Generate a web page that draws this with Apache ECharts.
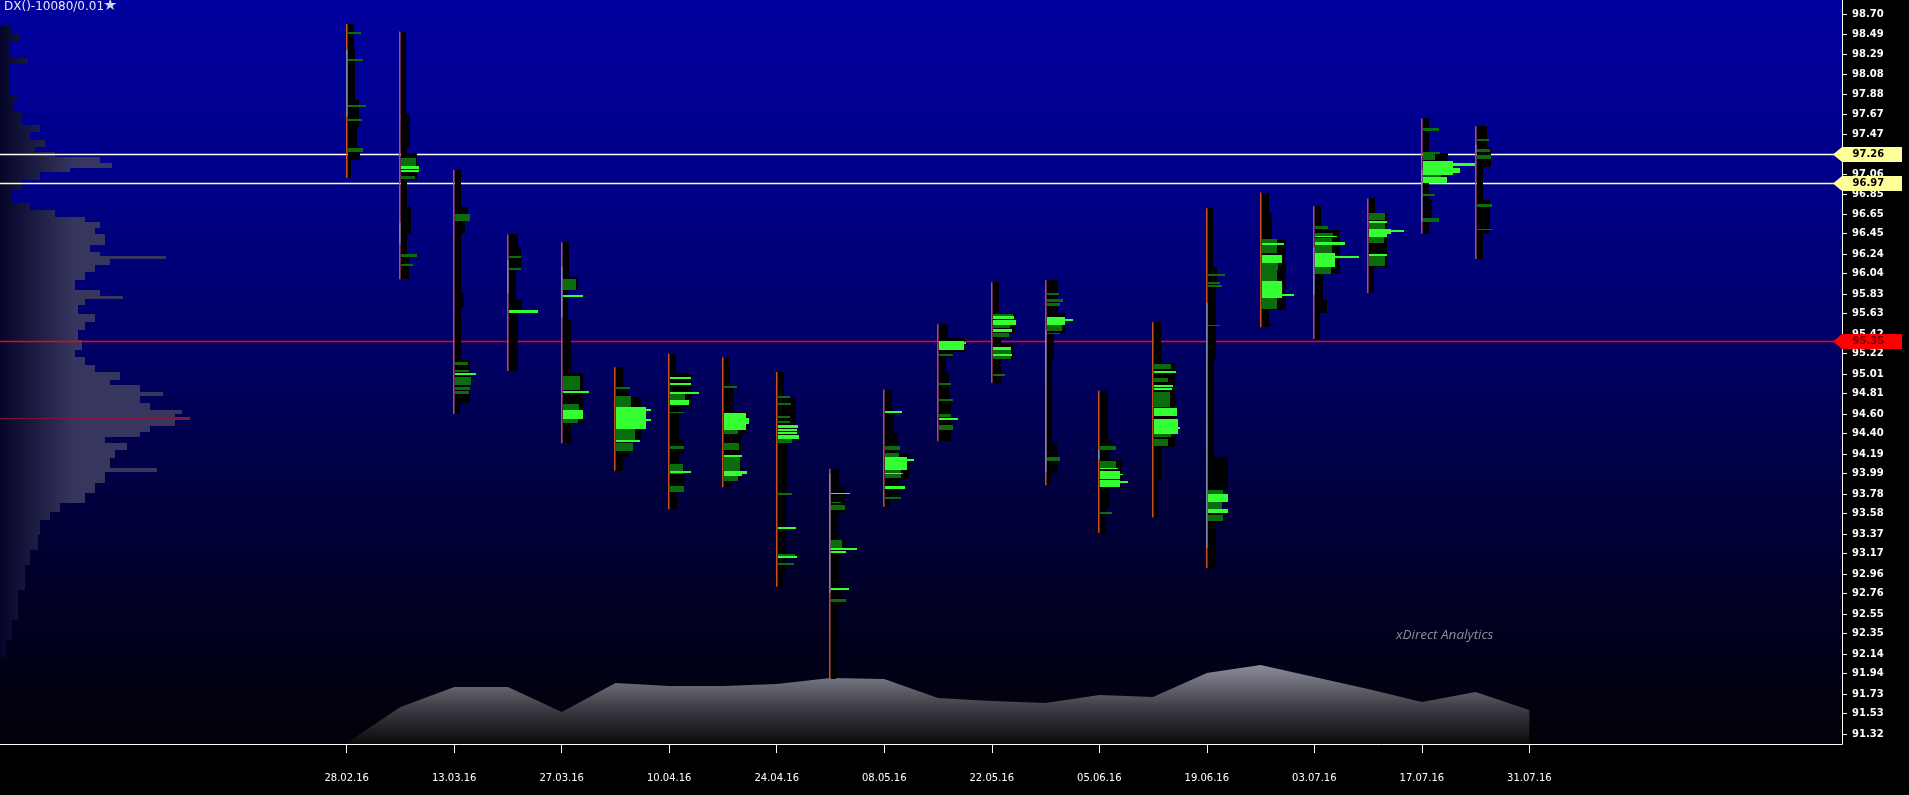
<!DOCTYPE html>
<html><head><meta charset="utf-8">
<script src="https://cdn.jsdelivr.net/npm/echarts@6/dist/echarts.min.js"></script>
<style>html,body{margin:0;padding:0;background:#000;overflow:hidden}#c{width:1909px;height:795px}</style>
</head><body><div id="c"></div>
<script>
// ---------- DATA ----------
const yTickLabels = ['98.70','98.49','98.29','98.08','97.88','97.67','97.47','97.26','97.06','96.85','96.65','96.45','96.24','96.04','95.83','95.63','95.42','95.22','95.01','94.81','94.60','94.40','94.19','93.99','93.78','93.58','93.37','93.17','92.96','92.76','92.55','92.35','92.14','91.94','91.73','91.53','91.32'];
const xTickLabels = ['28.02.16','13.03.16','27.03.16','10.04.16','24.04.16','08.05.16','22.05.16','05.06.16','19.06.16','03.07.16','17.07.16','31.07.16'];

const profileDates = ['2016-02-28','2016-03-06','2016-03-13','2016-03-20','2016-03-27','2016-04-03','2016-04-10','2016-04-17','2016-04-24','2016-05-01','2016-05-08','2016-05-15','2016-05-22','2016-05-29','2016-06-05','2016-06-12','2016-06-19','2016-06-26','2016-07-03','2016-07-10','2016-07-17','2016-07-24'];
const profileHigh = [98.60,98.52,97.10,96.44,96.36,95.08,95.22,95.18,95.03,94.04,94.85,95.52,95.95,95.97,94.84,95.54,96.71,96.87,96.73,96.81,97.63,97.55];
const profileLow  = [97.02,95.98,94.60,95.04,94.30,94.02,93.62,93.85,92.83,91.88,93.65,94.32,94.92,93.87,93.38,93.54,93.02,95.49,95.37,95.84,96.45,96.19];

// volume histogram per week: [price level from which block starts, volume]
const profileBlack = [
 [[98.60,6],[98.33,7],[97.82,11],[97.54,9],[97.34,12],[97.20,3],[97.02,0]],
 [[98.52,5],[97.69,9],[97.34,6],[97.28,16],[97.00,6],[96.72,10],[96.46,6],[96.25,8],[95.98,0]],
 [[97.10,6],[96.72,13],[96.59,10],[96.46,6],[95.84,9],[95.70,6],[95.15,15],[94.71,5],[94.60,0]],
 [[96.44,9],[96.31,12],[96.11,7],[95.77,13],[95.64,9],[95.04,0]],
 [[96.36,6],[96.00,15],[95.87,5],[95.56,8],[95.02,20],[94.51,8],[94.30,0]],
 [[95.08,7],[94.88,12],[94.77,25],[94.33,13],[94.16,7],[94.02,0]],
 [[95.22,6],[95.02,22],[94.67,9],[94.33,14],[94.20,9],[94.06,14],[93.85,7],[93.62,0]],
 [[95.18,6],[94.88,9],[94.62,24],[94.40,17],[93.92,8],[93.85,0]],
 [[95.03,6],[94.77,18],[94.33,9],[93.82,8],[92.97,5],[92.83,0]],
 [[94.04,8],[93.85,14],[93.59,7],[93.31,14],[93.18,8],[92.83,10],[92.62,7],[92.28,5],[91.88,0]],
 [[94.85,7],[94.67,8],[94.41,13],[94.20,25],[93.92,14],[93.72,5],[93.65,0]],
 [[95.52,9],[95.38,26],[95.24,14],[95.18,7],[95.02,10],[94.74,12],[94.32,0]],
 [[95.95,6],[95.64,22],[95.43,8],[95.33,20],[95.15,8],[94.92,0]],
 [[95.97,11],[95.64,18],[95.43,7],[95.15,5],[94.30,10],[94.00,4],[93.87,0]],
 [[94.84,8],[94.33,12],[94.26,10],[94.13,22],[93.84,10],[93.65,6],[93.38,0]],
 [[95.54,7],[95.12,21],[94.26,7],[93.92,4],[93.54,0]],
 [[96.71,5],[96.11,9],[95.87,8],[95.15,6],[94.16,20],[93.82,13],[93.48,8],[93.02,0]],
 [[96.87,7],[96.66,10],[96.38,24],[95.67,7],[95.49,0]],
 [[96.73,6],[96.49,25],[96.05,8],[95.77,12],[95.64,5],[95.37,0]],
 [[96.81,6],[96.66,18],[96.11,5],[95.84,0]],
 [[97.63,6],[97.28,25],[96.97,6],[96.79,9],[96.57,6],[96.45,0]],
 [[97.55,10],[97.34,14],[97.13,6],[96.79,13],[96.46,6],[96.19,0]]
];

// high-volume rows: [top, bottom, volume, bright]
const profileGreen = [
 [[98.52,98.50,13,0],[98.24,98.22,15,0],[97.77,97.75,18,0],[97.62,97.60,14,0],[97.33,97.29,15,0]],
 [[97.22,97.14,15,0],[97.14,97.11,18,1],[97.10,97.08,18,1],[97.04,97.01,14,0],[96.24,96.21,16,0],[96.14,96.12,12,0]],
 [[96.65,96.58,15,0],[95.13,95.10,13,0],[95.05,95.03,14,0],[95.02,95.00,21,1],[94.98,94.90,16,0],[94.88,94.85,15,0],[94.84,94.81,14,0]],
 [[96.22,96.20,12,0],[96.10,96.08,12,0],[95.67,95.64,29,1]],
 [[95.98,95.87,13,0],[95.82,95.80,20,1],[94.99,94.85,17,0],[94.84,94.82,26,1],[94.70,94.64,16,0],[94.64,94.55,20,1],[94.55,94.51,15,0]],
 [[94.88,94.86,14,0],[94.78,94.67,15,0],[94.67,94.45,30,1],[94.65,94.63,35,1],[94.55,94.53,35,1],[94.45,94.33,19,0],[94.33,94.31,24,1],[94.30,94.22,17,0]],
 [[94.98,94.96,21,1],[94.92,94.90,21,1],[94.83,94.80,29,1],[94.80,94.74,15,0],[94.74,94.69,19,1],[94.62,94.61,14,0],[94.27,94.24,14,0],[94.09,93.99,13,0],[94.02,94.00,21,1],[93.86,93.80,14,0]],
 [[94.89,94.87,13,0],[94.61,94.44,22,1],[94.56,94.50,25,1],[94.44,94.39,14,0],[94.30,94.23,15,0],[94.18,94.01,16,0],[94.18,94.16,18,1],[94.02,93.99,23,1],[93.98,93.96,18,1],[93.96,93.91,14,0]],
 [[94.78,94.76,12,0],[94.71,94.69,13,0],[94.58,94.56,12,0],[94.53,94.51,12,0],[94.49,94.46,20,1],[94.45,94.43,19,1],[94.42,94.39,19,1],[94.38,94.34,21,1],[94.34,94.30,14,0],[93.79,93.77,14,0],[93.44,93.42,18,1],[93.17,93.12,17,0],[93.14,93.12,19,1],[93.07,93.05,16,0]],
 [[93.79,93.78,19,1],[93.70,93.69,10,0],[93.67,93.62,14,0],[93.31,93.21,11,0],[93.23,93.21,26,1],[93.20,93.18,15,1],[92.82,92.80,18,1],[92.70,92.67,15,0]],
 [[94.63,94.61,17,1],[94.27,94.23,15,0],[94.20,94.16,14,0],[94.16,94.03,22,1],[94.14,94.12,29,1],[94.03,93.94,16,0],[94.00,93.98,18,1],[93.86,93.83,20,1],[93.75,93.73,16,0]],
 [[95.35,95.26,25,1],[95.34,95.32,27,1],[95.22,95.19,14,0],[94.92,94.90,12,0],[94.75,94.73,14,0],[94.60,94.57,12,0],[94.56,94.54,19,1],[94.49,94.44,14,0]],
 [[95.62,95.60,20,0],[95.60,95.57,21,1],[95.56,95.51,23,1],[95.51,95.48,17,0],[95.47,95.44,19,1],[95.43,95.39,16,0],[95.29,95.26,18,1],[95.26,95.16,18,0],[95.22,95.19,19,1],[95.01,94.99,12,0]],
 [[95.84,95.82,12,0],[95.78,95.75,16,0],[95.74,95.71,13,0],[95.59,95.51,18,1],[95.57,95.55,26,1],[95.51,95.45,15,0],[95.43,95.42,13,0],[94.16,94.12,13,0]],
 [[94.27,94.23,16,0],[94.12,94.04,16,0],[94.05,94.04,18,1],[94.02,93.93,20,1],[93.99,93.97,23,1],[93.92,93.85,20,1],[93.91,93.89,28,1],[93.60,93.58,12,0]],
 [[95.11,95.06,17,0],[95.04,95.02,22,1],[94.97,94.93,14,0],[94.90,94.88,19,1],[94.87,94.85,18,1],[94.83,94.67,16,0],[94.66,94.58,23,1],[94.55,94.40,24,1],[94.47,94.45,26,1],[94.40,94.36,17,0],[94.34,94.27,14,0]],
 [[96.03,96.01,17,0],[95.95,95.93,12,0],[95.92,95.90,14,0],[95.51,95.50,12,0],[93.82,93.77,15,0],[93.78,93.70,20,1],[93.70,93.62,14,0],[93.63,93.59,20,1],[93.56,93.50,15,0]],
 [[96.39,96.25,15,0],[96.35,96.33,22,1],[96.23,96.15,20,1],[96.15,96.08,16,0],[96.08,95.96,15,0],[95.96,95.79,20,1],[95.83,95.81,32,1],[95.79,95.68,15,0]],
 [[96.53,96.50,13,0],[96.46,96.41,18,0],[96.42,96.41,22,1],[96.40,96.35,17,0],[96.36,96.33,30,1],[96.33,96.25,17,0],[96.25,96.11,20,1],[96.22,96.20,44,1],[96.11,96.04,16,0]],
 [[96.66,96.59,16,0],[96.58,96.56,18,1],[96.56,96.50,16,0],[96.50,96.45,22,1],[96.49,96.47,35,1],[96.44,96.41,18,1],[96.41,96.35,15,0],[96.24,96.12,16,0],[96.24,96.22,18,1]],
 [[97.53,97.50,16,0],[97.29,97.27,17,0],[97.26,97.20,12,0],[97.19,97.05,30,1],[97.17,97.14,52,1],[97.12,97.07,37,1],[97.05,97.03,18,0],[97.03,96.97,24,1],[96.85,96.83,12,0],[96.61,96.57,16,0]],
 [[97.42,97.40,12,0],[97.32,97.29,13,0],[97.25,97.21,14,0],[96.75,96.72,15,0],[96.50,96.49,16,0]]
];

// value-area segments of each week's range line
const profileGray = [
 [[98.33,97.65]],[[96.56,96.35]],[],[[96.18,95.84]],[[96.11,95.59]],[],[],[],[],[[93.99,92.77]],[],[],[],
 [[95.46,94.00]],[[94.23,94.13]],[],[[95.74,93.23]],[],[[96.31,95.82]],[],[[97.10,96.57]],[[97.36,97.28]]
];

// composite profile (whole period): [price level, volume]
const compositeLevels = [[98.59,12],[98.49,20],[98.41,10],[98.25,28],[98.19,10],[97.87,18],[97.82,14],[97.70,22],[97.56,40],[97.49,30],[97.41,45],[97.34,35],[97.29,55],[97.23,100],[97.17,112],[97.12,70],[97.08,40],[97.00,22],[96.90,12],[96.76,30],[96.69,55],[96.62,85],[96.57,100],[96.51,95],[96.44,105],[96.33,90],[96.26,100],[96.22,166],[96.19,110],[96.13,95],[96.06,85],[95.97,75],[95.87,100],[95.81,123],[95.78,85],[95.72,78],[95.62,95],[95.54,85],[95.46,78],[95.36,82],[95.26,75],[95.18,85],[95.10,95],[95.03,120],[94.95,110],[94.90,140],[94.83,163],[94.78,140],[94.71,150],[94.64,182],[94.60,175],[94.57,190],[94.54,175],[94.48,150],[94.42,140],[94.36,105],[94.30,127],[94.23,115],[94.15,110],[94.05,157],[94.01,105],[93.89,95],[93.79,85],[93.69,60],[93.60,50],[93.51,40],[93.36,38],[93.21,30],[93.05,25],[92.80,18],[92.49,12],[92.28,6],[92.11,0]];
const compositePOC = 94.56;

const volumeDates = ['2016-02-28','2016-03-06','2016-03-13','2016-03-20','2016-03-27','2016-04-03','2016-04-10','2016-04-17','2016-04-24','2016-05-01','2016-05-08','2016-05-15','2016-05-22','2016-05-29','2016-06-05','2016-06-12','2016-06-19','2016-06-26','2016-07-03','2016-07-10','2016-07-17','2016-07-24','2016-07-31'];
const volumeValues = [1,37,57,57,32,61,58,58,60,66,65,46,43,41,49,47,71,79,67,55,42,52,34];

const levelPrices = [97.26, 96.97, 95.35];

// ---------- SETUP ----------
const DAY = 86400000;
const ts = s => { const p = s.split('-').map(Number); return Date.UTC(p[0], p[1]-1, p[2]); };
const tsDMY = s => { const p = s.split('.').map(Number); return Date.UTC(2000+p[2], p[1]-1, p[0]); };
const ANCHOR = ts('2016-02-28');
const X_MIN = ANCHOR - 45.14*DAY, X_MAX = ANCHOR + 194.71*DAY;
const Y_MIN = 91.2175, Y_MAX = 98.8435;
const VOL_DAYS = 1/7.68;
const pad2 = n => (n<10?'0':'')+n;
const fmtDate = v => { const d = new Date(v); return pad2(d.getUTCDate())+'.'+pad2(d.getUTCMonth()+1)+'.'+pad2(d.getUTCFullYear()%100); };

const yTickValues = yTickLabels.map(parseFloat);
const xTickValues = xTickLabels.map(tsDMY);

const lineData = profileDates.map((d,i)=>[ts(d), profileHigh[i], profileLow[i]]);
const grayData = [];
profileGray.forEach((segs,i)=>segs.forEach(s=>grayData.push([ts(profileDates[i]), s[0], s[1]])));
const blackData = [];
profileBlack.forEach((lv,i)=>{ for(let k=0;k<lv.length-1;k++) blackData.push([ts(profileDates[i]), lv[k][0], lv[k+1][0], lv[k][1]]); });
const greenData = [];
profileGreen.forEach((g,i)=>g.forEach(b=>greenData.push([ts(profileDates[i]), b[0], b[1], b[2], b[3]])));
const compData = [];
for (let k=0;k<compositeLevels.length-1;k++) compData.push([compositeLevels[k][0], compositeLevels[k+1][0], compositeLevels[k][1], 0]);
const maxComp = Math.max(...compositeLevels.map(c=>c[1]));
compData.push([compositePOC, compositePOC, maxComp, 1]);

const G = echarts.graphic;
const compFill = new G.LinearGradient(0, 0, 75, 0, [{offset:0,color:'#05052a'},{offset:1,color:'#36365f'}], true);
const LEVEL_STYLE = [
  {line:'#ffffff', tag:'#ffff99', text:'#000000'},
  {line:'#ffffc0', tag:'#ffff99', text:'#000000'},
  {line:'#ff0000', tag:'#ff0000', text:'#7a0000'}
];

function rectItem(api, t, top, bot, w, fill, off) {
  const a = api.coord([t, top]), b = api.coord([t + w*VOL_DAYS*DAY, bot]);
  const y0 = Math.round(a[1]);
  const h = Math.max(Math.round(b[1]) - y0, 1);
  return {type:'rect', shape:{x:Math.round(a[0])+off, y:y0, width:Math.max(b[0]-a[0],0), height:h}, style:{fill:fill}};
}

const chart = echarts.init(document.getElementById('c'), null, {renderer:'canvas'});
chart.setOption({
  backgroundColor:'#000000',
  animation:false,
  grid:[
    {left:0, right:67, top:0, bottom:51, show:true, borderWidth:0,
     backgroundColor:new G.LinearGradient(0,0,0,1,[
       {offset:0,color:'#00009e'},{offset:0.25,color:'#000088'},{offset:0.45,color:'#00006a'},
       {offset:0.65,color:'#000042'},{offset:0.85,color:'#00001e'},{offset:1,color:'#020208'}])},
    {left:0, right:67, bottom:51, height:100}
  ],
  xAxis:[
    {gridIndex:0, type:'value', min:X_MIN, max:X_MAX, show:false},
    {gridIndex:1, type:'value', min:X_MIN, max:X_MAX,
     axisLine:{show:true, onZero:false, lineStyle:{color:'#ffffff', width:1}},
     axisTick:{show:true, length:9, customValues:xTickValues, lineStyle:{color:'#ffffff'}},
     axisLabel:{show:true, customValues:xTickValues, formatter:fmtDate, color:'#ffffff', fontSize:10, fontFamily:'DejaVu Sans', margin:29},
     splitLine:{show:false}}
  ],
  yAxis:[
    {gridIndex:0, type:'value', position:'right', min:Y_MIN, max:Y_MAX,
     axisLine:{show:true, lineStyle:{color:'#ffffff', width:1}},
     axisTick:{show:true, length:5, customValues:yTickValues, lineStyle:{color:'#ffffff'}},
     axisLabel:{show:true, customValues:yTickValues, formatter:v=>v.toFixed(2), color:'#ffffff', fontWeight:'bold', fontSize:10, fontFamily:'DejaVu Sans', margin:10},
     splitLine:{show:false}},
    {gridIndex:1, type:'value', min:0, max:100, show:false}
  ],
  graphic:[
    {type:'text', left:4, top:1, z:100, style:{text:'DX()-10080/0.01', fill:'#e8e8f2', font:'12px "DejaVu Sans"'}},
    {type:'text', left:103, top:-2, z:100, style:{text:'★', fill:'#d6d6e0', font:'16px "DejaVu Sans"'}},
    {type:'text', left:1396, top:628, z:100, style:{text:'xDirect Analytics', fill:'#8c8c9c', font:'italic 13.5px "Open Sans"'}}
  ],
  series:[
    {type:'line', xAxisIndex:1, yAxisIndex:1, z:1, symbol:'none',
     data:volumeDates.map((d,i)=>[ts(d), volumeValues[i]]),
     lineStyle:{width:0, opacity:0},
     areaStyle:{opacity:1, color:new G.LinearGradient(0,0,0,1,[{offset:0,color:'#8c8c9a'},{offset:0.55,color:'#3c3c44'},{offset:1,color:'#0a0a0c'}])}},
    {type:'custom', xAxisIndex:0, yAxisIndex:0, z:1, data:compData,
     renderItem:(p, api)=>{
       const top=api.value(0), bot=api.value(1), w=api.value(2), poc=api.value(3);
       if (poc) {
         const a = api.coord([X_MIN, top]), b = api.coord([X_MIN + w*VOL_DAYS*DAY, top]);
         return {type:'rect', shape:{x:a[0], y:Math.round(a[1]), width:b[0]-a[0], height:1}, style:{fill:'rgba(140,20,50,0.85)'}};
       }
       return rectItem(api, X_MIN, top, bot, w, compFill, 0);
     }},
    {type:'custom', xAxisIndex:0, yAxisIndex:0, z:2, data:levelPrices.map((p,i)=>[p,i]),
     renderItem:(p, api)=>{
       const price = api.value(0), st = LEVEL_STYLE[api.value(1)];
       const a = api.coord([X_MIN, price]), b = api.coord([X_MAX, price]);
       const y = Math.round(a[1]) + 0.5;
       const xr = b[0];
       return {type:'group', children:[
         {type:'line', shape:{x1:a[0], y1:y, x2:xr, y2:y}, style:{stroke:st.line, lineWidth:1.3}},
         {type:'polygon', shape:{points:[[xr-9,y],[xr,y-7.5],[xr+60,y-7.5],[xr+60,y+7.5],[xr,y+7.5]]}, style:{fill:st.tag}},
         {type:'text', x:xr+10.5, y:y, style:{text:price.toFixed(2), fill:st.text, font:'bold 10px "DejaVu Sans"', align:'left', verticalAlign:'middle'}}
       ]};
     }},
    {type:'custom', xAxisIndex:0, yAxisIndex:0, z:3, data:lineData,
     renderItem:(p, api)=>{
       const a = api.coord([api.value(0), api.value(1)]), b = api.coord([api.value(0), api.value(2)]);
       const x = Math.round(a[0]) - 0.25;
       return {type:'line', shape:{x1:x, y1:a[1], x2:x, y2:b[1]}, style:{stroke:'#c4501c', lineWidth:1.5}};
     }},
    {type:'custom', xAxisIndex:0, yAxisIndex:0, z:3, data:grayData,
     renderItem:(p, api)=>{
       const a = api.coord([api.value(0), api.value(1)]), b = api.coord([api.value(0), api.value(2)]);
       const x = Math.round(a[0]) - 0.25;
       return {type:'line', shape:{x1:x, y1:a[1], x2:x, y2:b[1]}, style:{stroke:'#7888a6', lineWidth:1.5}};
     }},
    {type:'custom', xAxisIndex:0, yAxisIndex:0, z:4, data:blackData,
     renderItem:(p, api)=>rectItem(api, api.value(0), api.value(1), api.value(2), api.value(3), '#000000', 1)},
    {type:'custom', xAxisIndex:0, yAxisIndex:0, z:5, data:greenData,
     renderItem:(p, api)=>rectItem(api, api.value(0), api.value(1), api.value(2), api.value(3), api.value(4) ? '#33ff33' : '#0a6c0a', 1)}
  ]
});
</script>
</body></html>
